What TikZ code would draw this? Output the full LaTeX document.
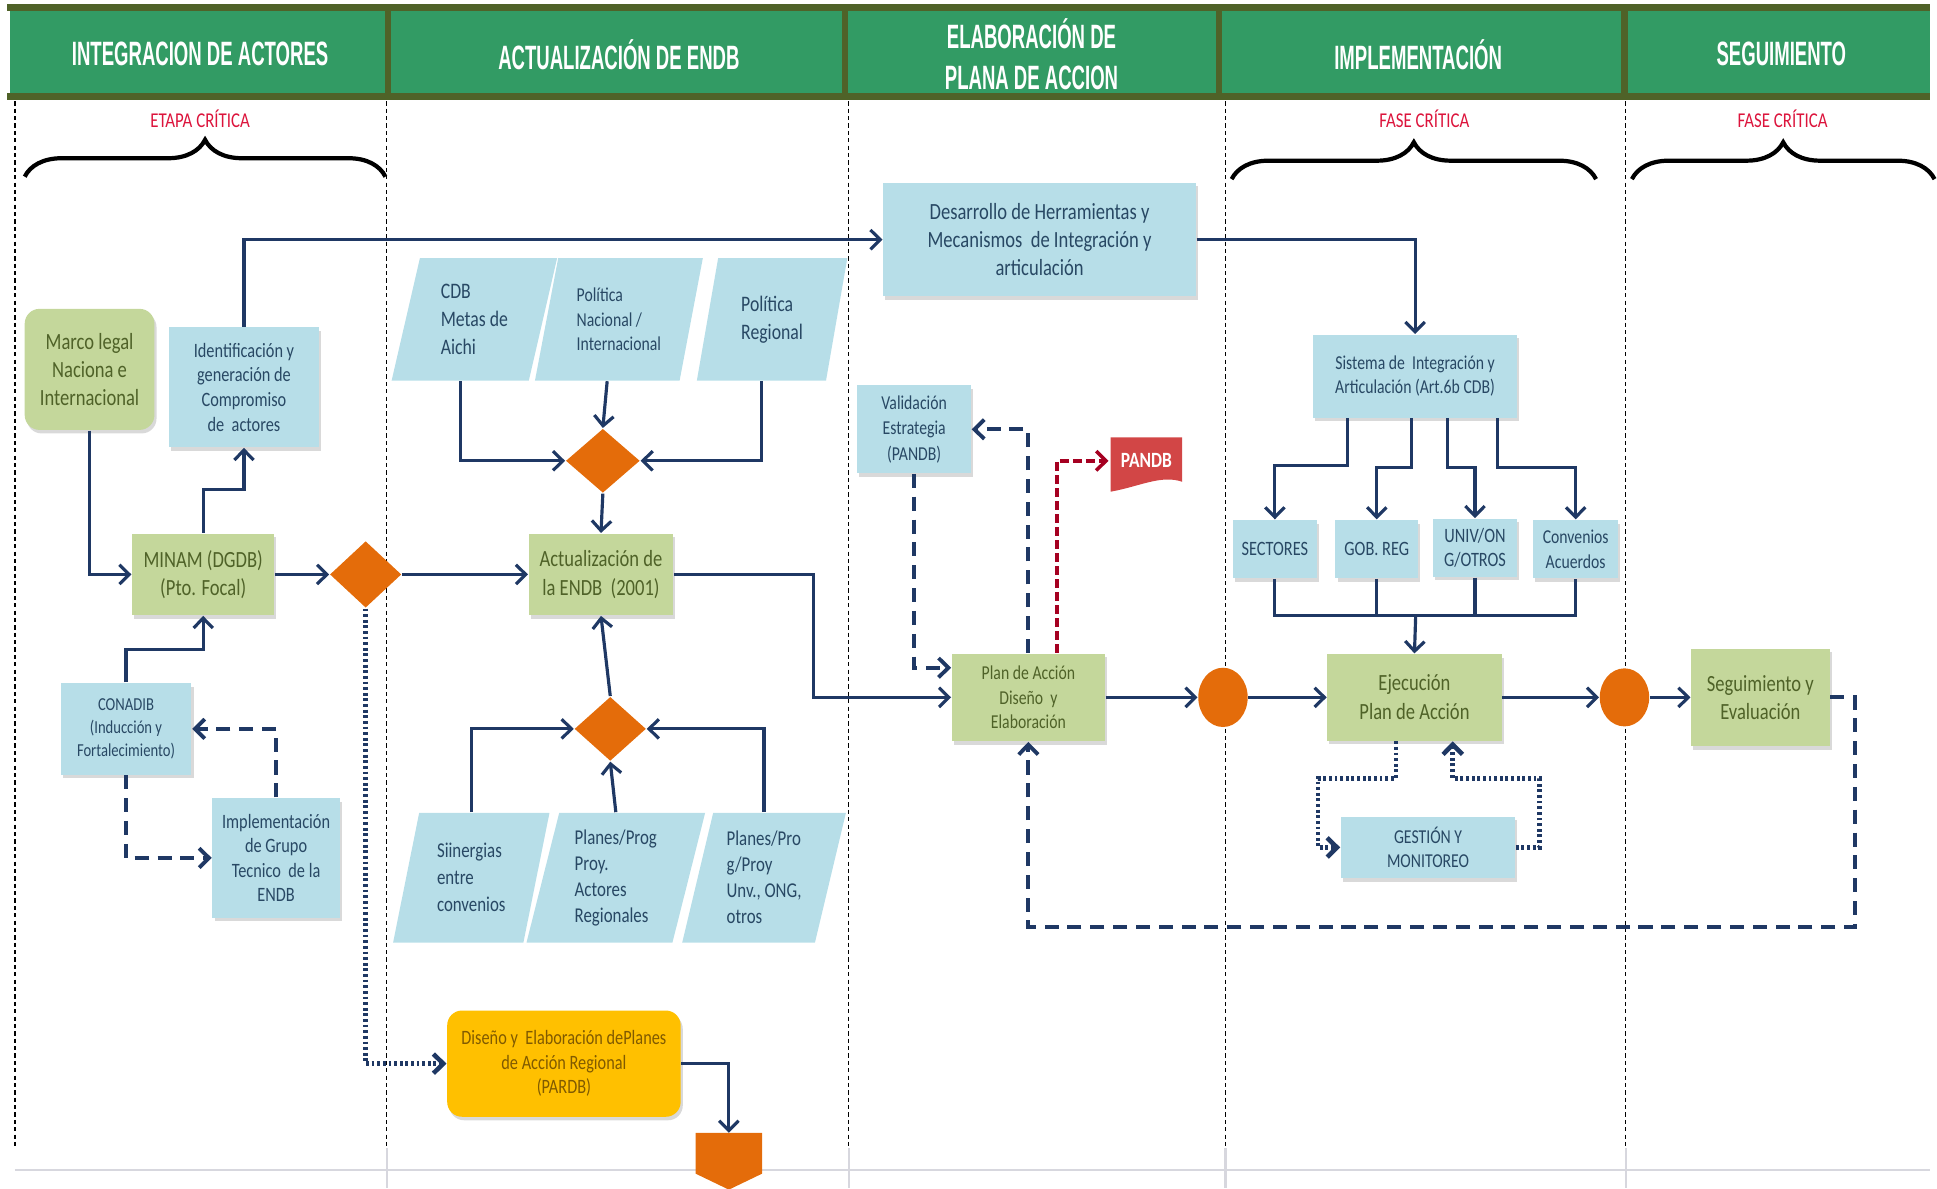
\documentclass[tikz,border=0pt]{standalone}
\usepackage{fontspec}
\usetikzlibrary{arrows.meta}
\usetikzlibrary{shapes.geometric}
\usetikzlibrary{shadows}
\usetikzlibrary{decorations.pathreplacing}
\newfontfamily\bodyfont[FakeStretch=0.8]{Carlito}
\newfontfamily\headfont[FakeStretch=0.55]{Liberation Sans}
\newcommand\boxfont[2]{\bodyfont\fontsize{#1}{#2}\selectfont}
\newlength\unitpx
\setlength\unitpx{0.12353mm}

\definecolor{headgreen}{RGB}{50,155,100}
\definecolor{headolive}{RGB}{79,98,40}
\definecolor{boxblue}{RGB}{183,222,232}
\definecolor{boxgreen}{RGB}{196,215,155}
\definecolor{boxorange}{RGB}{228,108,10}
\definecolor{boxyellow}{RGB}{255,192,0}
\definecolor{docred}{RGB}{210,70,70}
\definecolor{bluetext}{RGB}{40,72,100}
\definecolor{greentext}{RGB}{79,98,40}
\definecolor{yellowtext}{RGB}{128,90,0}
\definecolor{flownavy}{RGB}{31,56,100}
\definecolor{critred}{RGB}{220,20,60}
\definecolor{linkred}{RGB}{165,0,33}
\definecolor{gridgray}{RGB}{215,215,222}

\tikzstyle{every path}=[line cap=butt,line join=miter]
\tikzstyle{box}=[rectangle,inner sep=1pt,align=center,drop shadow={shadow xshift=0.6pt,shadow yshift=-1pt,opacity=0.3}]
\tikzstyle{bluebox}=[box,fill=boxblue,text=bluetext]
\tikzstyle{greenbox}=[box,fill=boxgreen,text=greentext]
\tikzstyle{yellowbox}=[box,fill=boxyellow,text=yellowtext,rounded corners=12\unitpx]
\tikzstyle{datain}=[trapezium,trapezium left angle=76,trapezium right angle=104,trapezium stretches=true,fill=boxblue,text=bluetext,align=left,inner sep=1pt]
\tikzstyle{decision}=[diamond,fill=boxorange,inner sep=0pt]
\tikzstyle{junction}=[ellipse,fill=boxorange,inner sep=0pt]
\tikzstyle{headtext}=[text=white,font={\headfont\fontsize{9.6}{11.6}\selectfont\bfseries},align=center]
\tikzstyle{critical}=[text=critred,font={\boxfont{6}{7}}]
\tikzstyle{flow}=[draw=flownavy,line width=0.9pt,-{Straight Barb[length=2.8pt,width=5.5pt]}]
\tikzstyle{flowline}=[draw=flownavy,line width=0.9pt]
\tikzstyle{flowdash}=[flow,dash pattern=on 4pt off 2.5pt,line width=1.1pt]
\tikzstyle{flowdot}=[flow,dash pattern=on 0.8pt off 0.8pt,line width=1.3pt]
\tikzstyle{reddash}=[flow,draw=linkred,dash pattern=on 2.5pt off 1.2pt,line width=1pt]
\tikzstyle{colline}=[black,line width=0.4pt,dash pattern=on 1.2pt off 0.9pt]
\tikzstyle{gridline}=[gridgray,line width=0.6pt]
\tikzstyle{critbrace}=[black,line width=1.2pt,decorate,decoration={brace,amplitude=10.5pt}]

\begin{document}
\begin{tikzpicture}[x=\unitpx,y=-\unitpx]
    \useasboundingbox (0,0) rectangle (1568,962);

    % Header band
    \fill[headolive] (6,3) rectangle (1562,9);
    \fill[headgreen] (8,9) rectangle (1562,75);
    \fill[headolive] (6,75) rectangle (1562,81);
    \foreach \sx in {314,684,987,1315}
        \fill[headolive] (\sx-2.5,9) rectangle (\sx+2.5,75);
    \node[headtext] (h1) at (162,44) {INTEGRACION DE ACTORES};
    \node[headtext] (h2) at (501,44) {ACTUALIZACIÓN DE ENDB};
    \node[headtext] (h3) at (835,44) {ELABORACIÓN DE\\PLANA DE ACCION};
    \node[headtext] (h4) at (1148,44) {IMPLEMENTACIÓN};
    \node[headtext] (h5) at (1442,44) {SEGUIMIENTO};

    % Column separators and sheet grid
    \foreach \cx in {12,313,687,992,1316}
        \draw[colline] (\cx,82) -- (\cx,929);
    \foreach \cx in {313,687,992,1316}
        \draw[gridline] (\cx,929) -- (\cx,962);
    \draw[gridline] (12,947) -- (1562,947);

    % Critical phases
    \node[critical] (crit1) at (162,96) {ETAPA CRÍTICA};
    \node[critical] (crit2) at (1153,96) {FASE CRÍTICA};
    \node[critical] (crit3) at (1443,96) {FASE CRÍTICA};
    \draw[critbrace] (20,143) -- (312,143);
    \draw[critbrace] (997,145) -- (1292,145);
    \draw[critbrace] (1321,145) -- (1566,145);

    % Integracion de actores
    \node[greenbox,rounded corners=12\unitpx,minimum width=105\unitpx,minimum height=98\unitpx,font={\boxfont{6.6}{7.9}}] (marco) at (72.5,299) {Marco legal\\Naciona e\\Internacional};
    \node[bluebox,minimum width=121\unitpx,minimum height=97\unitpx,font={\boxfont{5.8}{7}}] (ident) at (197.5,313.5) {Identificación y\\generación de\\Compromiso\\de\ \ actores};
    \node[greenbox,minimum width=115\unitpx,minimum height=66\unitpx,font={\boxfont{6.6}{8}}] (minam) at (164.5,465) {MINAM (DGDB)\\(Pto. Focal)};
    \node[decision,minimum width=58\unitpx,minimum height=54\unitpx] (dia1) at (296,465) {};
    \node[bluebox,minimum width=106\unitpx,minimum height=74\unitpx,font={\boxfont{5.2}{6.5}}] (conadib) at (102,590) {CONADIB\\(Inducción y\\Fortalecimiento)};
    \node[bluebox,minimum width=103\unitpx,minimum height=97\unitpx,font={\boxfont{5.8}{7}}] (grupo) at (223.5,694.5) {Implementación\\de Grupo\\Tecnico\ \ de la\\ENDB};

    % Actualizacion de ENDB
    \node[datain,minimum width=134\unitpx,minimum height=99\unitpx,font={\boxfont{6.3}{7.9}}] (cdb) at (384,258.5) {CDB\\Metas de\\Aichi};
    \node[datain,minimum width=136\unitpx,minimum height=99\unitpx,font={\boxfont{5.6}{7}}] (polnac) at (501,258.5) {Política\\Nacional /\\Internacional};
    \node[datain,minimum width=122\unitpx,minimum height=99\unitpx,font={\boxfont{6.3}{8}}] (polreg) at (625,258.5) {Política\\Regional};
    \node[decision,minimum width=60\unitpx,minimum height=52\unitpx] (dia2) at (488,373) {};
    \node[greenbox,minimum width=117\unitpx,minimum height=66\unitpx,font={\boxfont{6.6}{8.3}}] (actual) at (486.5,465) {Actualización de\\la ENDB\ \ (2001)};
    \node[decision,minimum width=58\unitpx,minimum height=52\unitpx] (dia3) at (494,590) {};
    \node[datain,minimum width=127\unitpx,minimum height=105\unitpx,font={\boxfont{6}{7.7}}] (sin) at (381.5,710.5) {Siinergias\\entre\\convenios};
    \node[datain,minimum width=145\unitpx,minimum height=105\unitpx,font={\boxfont{6}{7.4}}] (planesa) at (498.5,710.5) {Planes/Prog\\Proy.\\Actores\\Regionales};
    \node[datain,minimum width=133\unitpx,minimum height=105\unitpx,font={\boxfont{6}{7.4}}] (planesb) at (618.5,710.5) {Planes/Pro\\g/Proy\\Unv., ONG,\\otros};
    \node[yellowbox,minimum width=189\unitpx,minimum height=86\unitpx,font={\boxfont{5.8}{7}}] (pardb) at (456.5,861) {Diseño y\ \ Elaboración dePlanes\\de Acción Regional\\(PARDB)};
    \fill[boxorange] (563,917) -- (617,917) -- (617,950) -- (590,963) -- (563,950) -- cycle;
    \coordinate (conector) at (590,917);

    % Elaboracion de plan de accion
    \node[bluebox,minimum width=253\unitpx,minimum height=92\unitpx,font={\boxfont{6.6}{8}}] (desarrollo) at (841.5,194) {Desarrollo de Herramientas y\\Mecanismos\ \ de Integración y\\articulación};
    \node[bluebox,minimum width=92\unitpx,minimum height=71\unitpx,font={\boxfont{5.6}{7.2}}] (valid) at (740,347.5) {Validación\\Estrategia\\(PANDB)};
    \fill[docred] (899,354) -- (957,354) -- (957,390) .. controls (940,384) and (922,394) .. (899,398) -- cycle;
    \node[text=white,font={\boxfont{6.2}{7}\bfseries}] (pandb) at (928,373) {PANDB};
    \node[greenbox,minimum width=124\unitpx,minimum height=71\unitpx,font={\boxfont{5.6}{7}}] (plan) at (832.5,564.5) {Plan de Acción\\Diseño\ \ y\\Elaboración};
    \node[junction,minimum width=40\unitpx,minimum height=48\unitpx] (circ1) at (990,564.5) {};

    % Implementacion
    \node[bluebox,minimum width=165\unitpx,minimum height=67\unitpx,font={\boxfont{5.6}{7}}] (sistema) at (1145.5,304.5) {Sistema de\ \ Integración y\\Articulación (Art.6b CDB)};
    \node[bluebox,minimum width=68\unitpx,minimum height=47\unitpx,font={\boxfont{5.8}{7}}] (sectores) at (1032,444.5) {SECTORES};
    \node[bluebox,minimum width=67\unitpx,minimum height=47\unitpx,font={\boxfont{5.8}{7}}] (gob) at (1114.5,444.5) {GOB. REG};
    \node[bluebox,minimum width=68\unitpx,minimum height=47\unitpx,font={\boxfont{5.8}{7}}] (univ) at (1194,443.5) {UNIV/ON\\G/OTROS};
    \node[bluebox,minimum width=69\unitpx,minimum height=47\unitpx,font={\boxfont{5.6}{7}}] (conv) at (1275.5,444.5) {Convenios\\Acuerdos};
    \coordinate (union) at (1146,498);
    \node[greenbox,minimum width=141\unitpx,minimum height=70\unitpx,font={\boxfont{6.6}{8.2}}] (ejec) at (1145,564.5) {Ejecución\\Plan de Acción};
    \node[bluebox,minimum width=141\unitpx,minimum height=50\unitpx,font={\boxfont{5.6}{7}}] (gestion) at (1156,686) {GESTIÓN Y\\MONITOREO};
    \node[junction,minimum width=40\unitpx,minimum height=47\unitpx] (circ2) at (1315,564.5) {};

    % Seguimiento
    \node[greenbox,minimum width=112\unitpx,minimum height=79\unitpx,font={\boxfont{6.6}{8}}] (seguim) at (1425,564.5) {Seguimiento y\\Evaluación};

    % Connections for integracion de actores
    \draw[flow] (marco.south) |- (minam.west);
    \draw[flow] (minam.north) -- ++(0,-35) -| (ident.south);
    \draw[flow] (ident.north) |- (desarrollo.west);
    \draw[flow] (minam.east) -- (dia1.west);
    \draw[flow] (dia1.east) -- (actual.west);
    \draw[flowdot] (dia1.south) |- (pardb.west);
    \draw[flow] (conadib.north) -- ++(0,-27) -| (minam.south);
    \draw[flowdash] (conadib.south) |- (grupo.west);
    \draw[flowdash] (grupo.north) |- (conadib.east);

    % Connections for actualizacion
    \draw[flow] (cdb.bottom side) |- (dia2.west);
    \draw[flow] (polnac.bottom side) -- (dia2.north);
    \draw[flow] (polreg.bottom side) |- (dia2.east);
    \draw[flow] (dia2.south) -- (actual.north);
    \draw[flow] (dia3.north) -- (actual.south);
    \draw[flow] (sin.north) |- (dia3.west);
    \draw[flow] (planesa.north) -- (dia3.south);
    \draw[flow] (planesb.north) |- (dia3.east);
    \draw[flow] (pardb.east) -| (conector);
    \draw[flow] (actual.east) -- ++(113,0) |- (plan.west);

    % Connections for plan de accion
    \draw[flowdash] (valid.south) |- ([yshift=24\unitpx]plan.west);
    \draw[flowdash] (plan.north) |- (valid.east);
    \draw[reddash] ([xshift=23\unitpx]plan.north) |- (pandb.west);
    \draw[flow] (plan.east) -- (circ1.west);
    \draw[flow] (circ1.east) -- (ejec.west);

    % Connections for implementacion
    \draw[flow] (desarrollo.east) -| (sistema.north);
    \draw[flow] ([xshift=-55\unitpx]sistema.south) -- ++(0,38) -| (sectores.north);
    \draw[flow] ([xshift=-3\unitpx]sistema.south) -- ++(0,40) -| (gob.north);
    \draw[flow] ([xshift=26\unitpx]sistema.south) -- ++(0,40) -| (univ.north);
    \draw[flow] ([xshift=67\unitpx]sistema.south) -- ++(0,40) -| (conv.north);
    \draw[flowline] (sectores.south) |- (union) -| (conv.south);
    \draw[flowline] (gob.south) -- (gob.south |- union);
    \draw[flowline] (univ.south) -- (univ.south |- union);
    \draw[flow] (union) -- (ejec.north);
    \draw[flowdot] ([xshift=-15\unitpx]ejec.south) -- ++(0,30) -- ++(-63,0) |- (gestion.west);
    \draw[flowdot] (gestion.east) -- ++(19,0) -- ++(0,-56) -| ([xshift=31\unitpx]ejec.south);
    \draw[flow] (ejec.east) -- (circ2.west);
    \draw[flow] (circ2.east) -- (seguim.west);

    % Feedback to plan de accion
    \draw[flowdash] (seguim.east) -- ++(20,0) -- ++(0,186) -| (plan.south);
\end{tikzpicture}
\end{document}
